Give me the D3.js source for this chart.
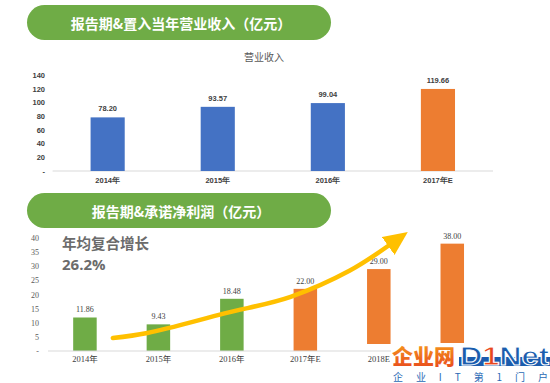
<!DOCTYPE html>
<html>
<head>
<meta charset="utf-8">
<script src="https://cdn.jsdelivr.net/npm/d3@7"></script>
<style>
  body { margin: 0; background: #fff; }
  svg { display: block; font-family: "Noto Sans CJK SC", "Noto Sans", sans-serif; }
</style>
</head>
<body>
<div id="chart"></div>
<script>
// top chart: revenue
var revYears = ["2014年", "2015年", "2016年", "2017年E"];
var revValues = [78.20, 93.57, 99.04, 119.66];
var revTicks = [0, 20, 40, 60, 80, 100, 120, 140];

// bottom chart: net profit
var profitYears = ["2014年", "2015年", "2016年", "2017年E", "2018E", "2019E"];
var profitValues = [11.86, 9.43, 18.48, 22.00, 29.00, 38.00];
var profitTicks = [0, 5, 10, 15, 20, 25, 30, 35, 40];

// growth arrow, in [bar index, value] units
var arrowPts = [[0.38, 4.6], [0.85, 6.4], [1.9, 13.3], [2.8, 19.2], [3.6, 28.4], [4.15, 37.6]];

var svgWidth = 550;
var svgHeight = 383;

var green = "#6fac46";
var blue = "#4472c4";
var orange = "#ed7d31";

var svg = d3.select("#chart")
  .append("svg")
  .attr("width", svgWidth)
  .attr("height", svgHeight);

var defs = svg.append("defs");

function banner(y, label) {
  svg.append("rect")
    .attr("x", 27).attr("y", y)
    .attr("width", 304).attr("height", 35)
    .attr("rx", 17.5)
    .attr("fill", green);
  svg.append("text")
    .attr("x", 181).attr("y", y + 18)
    .attr("text-anchor", "middle")
    .attr("dominant-baseline", "central")
    .attr("fill", "#fff")
    .attr("font-size", 14)
    .attr("font-weight", "bold")
    .text(label);
}

banner(5, "报告期&置入当年营业收入（亿元）");
banner(193, "报告期&承诺净利润（亿元）");

// ---- top chart ----
var x1 = d3.scaleBand()
  .domain(revYears)
  .range([52.6, 493])
  .paddingInner(0.69)
  .paddingOuter(0.345);

var y1 = d3.scaleLinear()
  .domain([0, 140])
  .range([171, 75]);

svg.append("text")
  .attr("x", 264).attr("y", 61)
  .attr("text-anchor", "middle")
  .attr("font-size", 10)
  .attr("fill", "#595959")
  .text("营业收入");

var yAxis1 = svg.append("g")
  .attr("transform", "translate(45,0)")
  .call(d3.axisLeft(y1).tickValues(revTicks).tickSize(0).tickPadding(0)
    .tickFormat(function(d) { return d === 0 ? "-" : d; }));
yAxis1.select(".domain").remove();
yAxis1.selectAll("text")
  .attr("font-size", 7.5).attr("font-weight", "bold").attr("fill", "#404040")
  .attr("font-family", "'Liberation Sans', sans-serif");

svg.append("line")
  .attr("x1", 52.6).attr("x2", 493)
  .attr("y1", y1(0)).attr("y2", y1(0))
  .attr("stroke", "#d9d9d9");

svg.selectAll(".revbar")
  .data(revValues)
  .enter()
  .append("rect")
  .attr("class", "revbar")
  .attr("x", function(d, i) { return x1(revYears[i]); })
  .attr("y", function(d) { return y1(d); })
  .attr("width", x1.bandwidth())
  .attr("height", function(d) { return y1(0) - y1(d); })
  .attr("fill", function(d, i) { return i === 3 ? orange : blue; });

svg.selectAll(".revlabel")
  .data(revValues)
  .enter()
  .append("text")
  .attr("class", "revlabel")
  .attr("x", function(d, i) { return x1(revYears[i]) + x1.bandwidth() / 2; })
  .attr("y", function(d) { return y1(d) - 6; })
  .attr("text-anchor", "middle")
  .attr("font-size", 7.5).attr("font-weight", "bold").attr("fill", "#404040")
  .attr("font-family", "'Liberation Sans', sans-serif")
  .text(function(d) { return d.toFixed(2); });

var xAxis1 = svg.append("g")
  .attr("transform", "translate(0," + y1(0) + ")")
  .call(d3.axisBottom(x1).tickSize(0).tickPadding(7));
xAxis1.select(".domain").remove();
xAxis1.selectAll("text")
  .attr("font-size", 7.5).attr("font-weight", "bold").attr("fill", "#404040");

// ---- bottom chart ----
var x2 = d3.scaleBand()
  .domain(profitYears)
  .range([48.2, 489])
  .paddingInner(0.68)
  .paddingOuter(0.34);

var y2 = d3.scaleLinear()
  .domain([0, 40])
  .range([351, 238]);

var xi = d3.scaleLinear()
  .domain([0, 1])
  .range([x2(profitYears[0]) + x2.bandwidth() / 2, x2(profitYears[1]) + x2.bandwidth() / 2]);

var yAxis2 = svg.append("g")
  .attr("transform", "translate(39,0)")
  .call(d3.axisLeft(y2).tickValues(profitTicks).tickSize(0).tickPadding(0)
    .tickFormat(function(d) { return d === 0 ? "-" : d; }));
yAxis2.select(".domain").remove();
yAxis2.selectAll("text")
  .attr("font-size", 8).attr("fill", "#595959")
  .attr("font-family", "'Liberation Serif', serif");

svg.append("text")
  .attr("x", 62).attr("y", 249)
  .attr("font-size", 14.5).attr("font-weight", "bold").attr("fill", "#6b6b6b")
  .text("年均复合增长");
svg.append("text")
  .attr("x", 62).attr("y", 270)
  .attr("font-size", 15).attr("font-weight", "bold").attr("fill", "#6b6b6b")
  .attr("font-family", "'Open Sans', sans-serif")
  .text("26.2%");

svg.selectAll(".pbar")
  .data(profitValues)
  .enter()
  .append("rect")
  .attr("class", "pbar")
  .attr("x", function(d, i) { return x2(profitYears[i]); })
  .attr("y", function(d) { return y2(d); })
  .attr("width", x2.bandwidth())
  .attr("height", function(d) { return y2(0) - y2(d); })
  .attr("fill", function(d, i) { return i < 3 ? green : orange; });

svg.selectAll(".plabel")
  .data(profitValues)
  .enter()
  .append("text")
  .attr("class", "plabel")
  .attr("x", function(d, i) { return x2(profitYears[i]) + x2.bandwidth() / 2; })
  .attr("y", function(d) { return y2(d) - 5; })
  .attr("text-anchor", "middle")
  .attr("font-size", 8).attr("fill", "#404040")
  .attr("font-family", "'Liberation Serif', serif")
  .text(function(d) { return d.toFixed(2); });

// arrow
defs.append("marker")
  .attr("id", "head")
  .attr("markerUnits", "userSpaceOnUse")
  .attr("viewBox", "0 -11 24 22")
  .attr("refX", 2).attr("refY", 0)
  .attr("markerWidth", 24).attr("markerHeight", 22)
  .attr("orient", "auto")
  .append("path")
  .attr("d", "M0,-11L24,0L0,11Z")
  .attr("fill", "#ffc000");

svg.append("path")
  .datum(arrowPts)
  .attr("d", d3.line()
    .x(function(d) { return xi(d[0]); })
    .y(function(d) { return y2(d[1]); })
    .curve(d3.curveCatmullRom))
  .attr("fill", "none")
  .attr("stroke", "#ffc000")
  .attr("stroke-width", 4.5)
  .attr("stroke-linecap", "round")
  .attr("marker-end", "url(#head)");

// white halo of the watermark cuts the bar feet
svg.append("rect")
  .attr("x", 364).attr("y", 344).attr("width", 186).attr("height", 39)
  .attr("fill", "#fff");

svg.append("line")
  .attr("x1", 48).attr("x2", 393)
  .attr("y1", y2(0)).attr("y2", y2(0))
  .attr("stroke", "#d9d9d9");

var xAxis2 = svg.append("g")
  .attr("transform", "translate(0," + y2(0) + ")")
  .call(d3.axisBottom(x2).tickSize(0).tickPadding(5));
xAxis2.select(".domain").remove();
xAxis2.selectAll("text")
  .attr("font-size", 8.5).attr("fill", "#404040")
  .attr("font-family", "'Liberation Serif', 'Noto Sans CJK SC', serif");

// watermark logo
var logo = svg.append("g");
logo.append("rect")
  .attr("x", 391).attr("y", 343).attr("width", 159).attr("height", 40)
  .attr("fill", "#fff");
var grad = defs.append("linearGradient")
  .attr("id", "lg").attr("x1", 0).attr("y1", 0).attr("x2", 0).attr("y2", 1);
grad.append("stop").attr("offset", "0%").attr("stop-color", "#f7a21b");
grad.append("stop").attr("offset", "100%").attr("stop-color", "#e8461e");
logo.append("text")
  .attr("x", 392).attr("y", 364)
  .attr("font-size", 21).attr("font-weight", "900")
  .attr("fill", "url(#lg)")
  .attr("textLength", 63)
  .attr("lengthAdjust", "spacingAndGlyphs")
  .text("企业网");
logo.append("rect")
  .attr("x", 459).attr("y", 357).attr("width", 91).attr("height", 9)
  .attr("fill", "#1b5cad");
logo.append("text")
  .attr("x", 460).attr("y", 365)
  .attr("font-size", 26).attr("font-weight", "bold")
  .attr("font-family", "'Liberation Sans', sans-serif")
  .attr("fill", "#1b5cad").attr("stroke", "#fff").attr("stroke-width", 1)
  .attr("textLength", 89)
  .attr("lengthAdjust", "spacingAndGlyphs")
  .html('D<tspan fill="#e8461e">1</tspan>Net');
logo.append("text")
  .attr("x", 393).attr("y", 381)
  .attr("font-size", 10)
  .attr("fill", "#2a6ab5")
  .attr("textLength", 155)
  .text("企业IT第1门户");
</script>
</body>
</html>
